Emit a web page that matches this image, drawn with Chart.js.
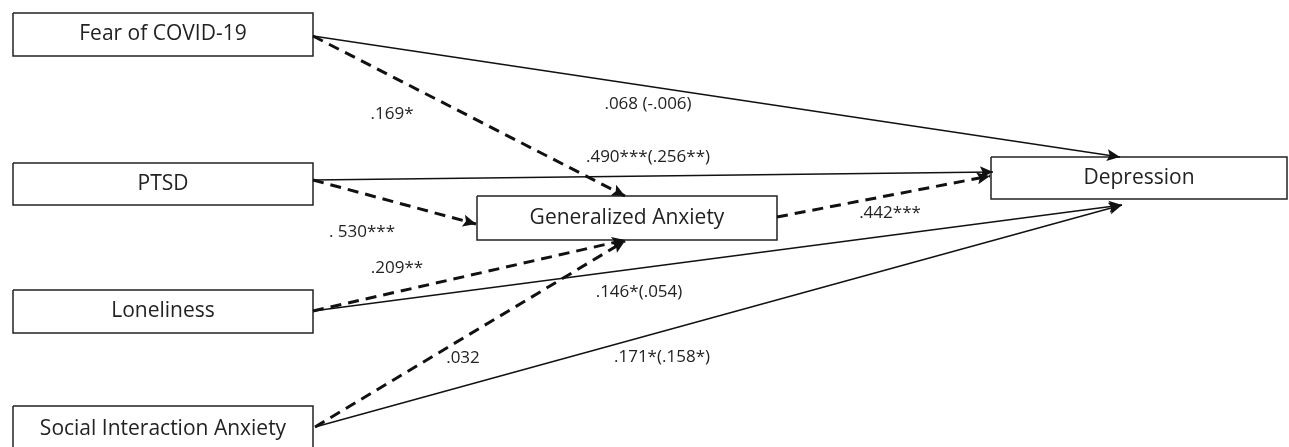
<!DOCTYPE html>
<html><head><meta charset="utf-8">
<script src="https://cdn.jsdelivr.net/npm/chart.js@4/dist/chart.umd.min.js"></script>
<style>html,body{margin:0;padding:0;background:#fff;}#wrap{width:1289px;height:447px;}</style>
</head><body><div id="wrap"><canvas id="c" width="1289" height="447"></canvas></div>
<script>
// ---- content ----
const nodes = ["Fear of COVID-19","PTSD","Loneliness","Social Interaction Anxiety","Generalized Anxiety","Depression"];
const pathFrom = [0,0,1,1,4,2,2,3,3];
const pathTo   = [5,4,5,4,5,4,5,4,5];
const pathDashed = [false,true,false,true,true,true,false,true,false];
const coefLabels = [".068 (-.006)",".169*",".490***(.256**)",". 530***",".442***",".209**",".146*(.054)",".032",".171*(.158*)"];

// ---- layout (positions only) ----
const boxes = [[13,13,313,56],[13,163,313,205],[13,290,313,333],[13,406,313,452],[477,196,777,240],[991,157,1287,199]];
const pathPts = [
  [[313,36],[1120,157]],
  [[313,36],[625,196]],
  [[313,180],[993,172]],
  [[313,180],[476,224]],
  [[777,217],[990,176]],
  [[313,311],[625,240]],
  [[313,311],[1122,205]],
  [[315,427],[625,241]],
  [[315,427],[1122,205]]
];
const labelPos = [[648,104],[392,114],[648,157],[362,232],[890,213],[397,268],[639,292],[463,358],[662,357]];

const datasets = [];
pathPts.forEach((p,i)=>{
  datasets.push({data:p.map(q=>({x:q[0],y:q[1]})),showLine:true,borderColor:'#111',
    borderWidth:pathDashed[i]?3:1.4,borderDash:pathDashed[i]?[11,7]:[],pointRadius:0,fill:false});
});
boxes.forEach(b=>{
  datasets.push({data:[{x:b[0],y:b[1]},{x:b[2],y:b[1]},{x:b[2],y:b[3]},{x:b[0],y:b[3]},{x:b[0],y:b[1]}],
    showLine:true,borderColor:'#222',borderWidth:1.5,backgroundColor:'#fff',fill:true,pointRadius:0,tension:0});
});

const overlay = {
  id:'overlay',
  afterDatasetsDraw(chart){
    const ctx=chart.ctx, xs=chart.scales.x, ys=chart.scales.y;
    ctx.save();
    pathPts.forEach(p=>{
      const x1=xs.getPixelForValue(p[0][0]), y1=ys.getPixelForValue(p[0][1]);
      const x2=xs.getPixelForValue(p[1][0]), y2=ys.getPixelForValue(p[1][1]);
      const a=Math.atan2(y2-y1,x2-x1), L=13, W=6;
      ctx.beginPath();
      ctx.moveTo(x2,y2);
      ctx.lineTo(x2-L*Math.cos(a)+W*Math.sin(a), y2-L*Math.sin(a)-W*Math.cos(a));
      ctx.lineTo(x2-L*Math.cos(a)*0.8, y2-L*Math.sin(a)*0.8);
      ctx.lineTo(x2-L*Math.cos(a)-W*Math.sin(a), y2-L*Math.sin(a)+W*Math.cos(a));
      ctx.closePath();
      ctx.fillStyle='#111';ctx.fill();
    });
    ctx.fillStyle='#222';ctx.textAlign='center';ctx.textBaseline='middle';
    ctx.font='21px "Open Sans", sans-serif';
    boxes.forEach((b,i)=>{
      const cx=xs.getPixelForValue((b[0]+b[2])/2), cy=ys.getPixelForValue((b[1]+b[3])/2);
      ctx.fillText(nodes[i],cx,cy);
    });
    ctx.font='17px "Open Sans", sans-serif';
    coefLabels.forEach((t,i)=>{
      ctx.fillText(t,xs.getPixelForValue(labelPos[i][0]),ys.getPixelForValue(labelPos[i][1]));
    });
    ctx.restore();
  }
};

new Chart(document.getElementById('c'),{
  type:'scatter',
  data:{datasets},
  options:{responsive:false,animation:false,events:[],
    layout:{padding:0},
    plugins:{legend:{display:false},tooltip:{enabled:false}},
    scales:{
      x:{type:'linear',min:0,max:1289,display:false},
      y:{type:'linear',min:0,max:447,reverse:true,display:false}
    }
  },
  plugins:[overlay]
});
</script></body></html>
